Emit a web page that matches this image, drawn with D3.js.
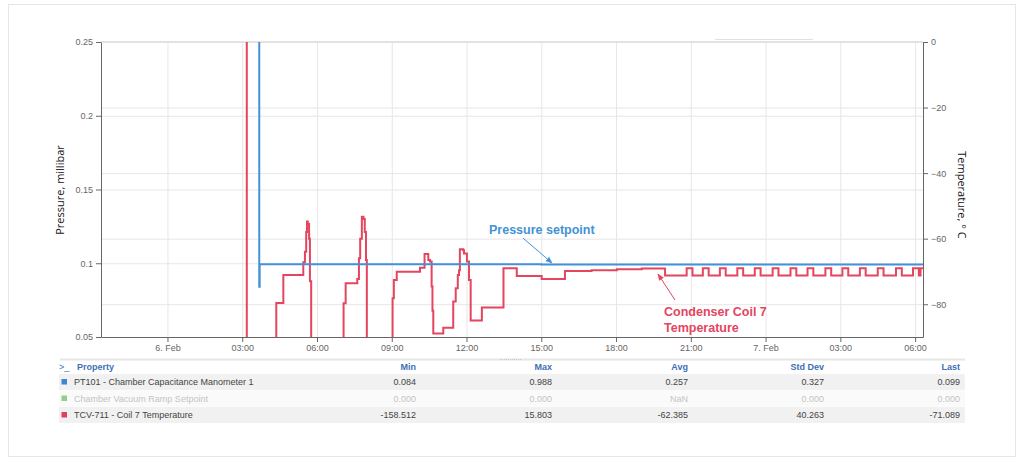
<!DOCTYPE html>
<html>
<head>
<meta charset="utf-8">
<script src="https://cdn.jsdelivr.net/npm/d3@7"></script>
<style>
  body { margin: 0; background: #fff; font-family: "Liberation Sans", Arial, sans-serif; }
  .tick text { font-size: 9px; fill: #666; font-family: "Liberation Sans", Arial, sans-serif; }
  .axis path, .axis line { stroke: #666; }
  .grid line { stroke: #e6e6e6; }
  .grid path { display: none; }
</style>
</head>
<body>
<div id="chart"></div>
<script>
// chart size
var svgWidth = 1024;
var svgHeight = 465;

var plot = { left: 101, right: 923, top: 42, bottom: 337 };

// time axis
var parseTime = d3.timeParse("%m-%d %H:%M");
var xDomain = ["02-05 21:20", "02-07 06:19"];
var xTicks = ["02-06 00:00", "02-06 03:00", "02-06 06:00", "02-06 09:00", "02-06 12:00", "02-06 15:00",
  "02-06 18:00", "02-06 21:00", "02-07 00:00", "02-07 03:00", "02-07 06:00"];
var xTickLabels = ["6. Feb", "03:00", "06:00", "09:00", "12:00", "15:00", "18:00", "21:00", "7. Feb", "03:00", "06:00"];

// left axis (pressure) and right axis (temperature)
var pressureTicks = [0.05, 0.1, 0.15, 0.2, 0.25];
var pressureTickLabels = ["0.05", "0.1", "0.15", "0.2", "0.25"];
var tempTicks = [-80, -60, -40, -20, 0];

// PT101 pressure, millibar
var pressureTimes = ["02-05 21:18", "02-06 03:41", "02-06 03:42", "02-06 15:00", "02-07 06:19"];
var pressureValues = [0.95, 0.084, 0.0994, 0.0992, 0.0990];

// TCV-711 coil 7 temperature, deg C
var tempTimes = ["02-05 21:18", "02-06 03:11", "02-06 04:22", "02-06 04:39", "02-06 05:27", "02-06 05:31",
  "02-06 05:34", "02-06 05:36", "02-06 05:38", "02-06 05:41", "02-06 05:43", "02-06 05:46",
  "02-06 07:04", "02-06 07:09", "02-06 07:37", "02-06 07:41", "02-06 07:44", "02-06 07:48",
  "02-06 07:52", "02-06 07:55", "02-06 07:58", "02-06 08:00",
  "02-06 09:02", "02-06 09:05", "02-06 09:12", "02-06 10:08", "02-06 10:19", "02-06 10:28",
  "02-06 10:32", "02-06 10:36", "02-06 10:38", "02-06 10:40", "02-06 11:04", "02-06 11:28",
  "02-06 11:34", "02-06 11:39", "02-06 11:42", "02-06 11:44", "02-06 11:52", "02-06 11:54",
  "02-06 12:01", "02-06 12:06", "02-06 12:10", "02-06 12:37", "02-06 13:29", "02-06 14:01",
  "02-06 15:01", "02-06 15:57", "02-06 17:01", "02-06 18:02", "02-06 19:02", "02-06 19:58",
  "02-06 20:50", "02-06 21:04", "02-06 21:29", "02-06 21:43", "02-06 22:10", "02-06 22:24",
  "02-06 22:52", "02-06 23:06", "02-06 23:34", "02-06 23:48", "02-07 00:17", "02-07 00:31",
  "02-07 01:00", "02-07 01:14", "02-07 01:41", "02-07 01:55", "02-07 02:24", "02-07 02:38",
  "02-07 03:05", "02-07 03:19", "02-07 03:47", "02-07 04:01", "02-07 04:30", "02-07 04:44",
  "02-07 05:14", "02-07 05:28", "02-07 05:55", "02-07 06:09", "02-07 06:13", "02-07 06:19"];
var tempValues = [12, -158.5, -79.6, -71.1, -67.2, -64,
  -58, -54.8, -55.5, -60, -73, -150,
  -79.7, -73.6, -72.3, -66, -60, -53.3,
  -54, -58, -66.5, -150,
  -78.2, -72.6, -70.1, -68.9, -64.7, -66.5,
  -67, -74.6, -82, -88.9, -87.2, -79.2,
  -75.1, -71.1, -69.6, -63.2, -63.5, -64.5,
  -67.0, -72.6, -85.0, -81.0, -69.0, -71.4,
  -72.3, -69.9, -69.6, -69.3, -69.1, -71.2,
  -69.0, -71.2, -69.0, -71.2, -69.0, -71.2,
  -69.0, -71.2, -69.0, -71.2, -69.0, -71.2,
  -69.0, -71.2, -69.0, -71.2, -69.0, -71.2,
  -69.0, -71.2, -69.0, -71.2, -69.0, -71.2,
  -69.0, -71.2, -69.0, -71.2, -69.0, -69.0];

// statistics table
var tableProps = ["PT101 - Chamber Capacitance Manometer 1", "Chamber Vacuum Ramp Setpoint", "TCV-711 - Coil 7 Temperature"];
var tableColors = ["#3f86cf", "#8fce8f", "#e0405e"];
var tableHeaders = ["Min", "Max", "Avg", "Std Dev", "Last"];
var tableMin = ["0.084", "0.000", "-158.512"];
var tableMax = ["0.988", "0.000", "15.803"];
var tableAvg = ["0.257", "NaN", "-62.385"];
var tableStd = ["0.327", "0.000", "40.263"];
var tableLast = ["0.099", "0.000", "-71.089"];

var blue = "#4392d6";
var red = "#e4455f";

var svg = d3.select("#chart")
  .append("svg")
  .attr("width", svgWidth)
  .attr("height", svgHeight);

// outer frame
svg.append("rect")
  .attr("x", 8.5).attr("y", 4.5)
  .attr("width", 1007).attr("height", 452)
  .attr("fill", "#fff")
  .attr("stroke", "#dfe8f0");

// scales
var x = d3.scaleTime()
  .domain(xDomain.map(parseTime))
  .range([plot.left, plot.right]);

var yLeft = d3.scaleLinear()
  .domain([0.05, 0.25])
  .range([plot.bottom, plot.top]);

var yRight = d3.scaleLinear()
  .domain([-90, 0])
  .range([plot.bottom, plot.top]);

var xTickDates = xTicks.map(parseTime);

// grid lines
svg.append("g")
  .attr("class", "grid")
  .attr("transform", `translate(0, ${plot.bottom})`)
  .call(d3.axisBottom(x).tickValues(xTickDates).tickSize(-(plot.bottom - plot.top)).tickFormat(""));

svg.append("g")
  .attr("class", "grid")
  .attr("transform", `translate(${plot.left}, 0)`)
  .call(d3.axisLeft(yLeft).tickValues(pressureTicks).tickSize(-(plot.right - plot.left)).tickFormat(""));

svg.append("g")
  .attr("class", "grid")
  .attr("transform", `translate(${plot.left}, 0)`)
  .call(d3.axisLeft(yRight).tickValues(tempTicks).tickSize(-(plot.right - plot.left)).tickFormat(""));

// top border of plot
svg.append("line")
  .attr("x1", plot.left).attr("x2", plot.right)
  .attr("y1", plot.top).attr("y2", plot.top)
  .attr("stroke", "#e2e2e2").attr("stroke-width", 2);

// small navigator mark above plot
svg.append("line")
  .attr("x1", 715).attr("x2", 813)
  .attr("y1", 39.5).attr("y2", 39.5)
  .attr("stroke", "#e0e0e0");

// clip
svg.append("clipPath").attr("id", "plotClip")
  .append("rect")
  .attr("x", plot.left).attr("y", plot.top)
  .attr("width", plot.right - plot.left).attr("height", plot.bottom - plot.top);

var pressureData = pressureTimes.map((t, i) => ({ t: parseTime(t), v: pressureValues[i] }));
var tempData = tempTimes.map((t, i) => ({ t: parseTime(t), v: tempValues[i] }));

var linesGroup = svg.append("g").attr("clip-path", "url(#plotClip)");

linesGroup.append("path")
  .datum(tempData)
  .attr("fill", "none")
  .attr("stroke", red)
  .attr("stroke-width", 2)
  .attr("d", d3.line().x(d => x(d.t)).y(d => yRight(d.v)).curve(d3.curveStepAfter));

linesGroup.append("path")
  .datum(pressureData)
  .attr("fill", "none")
  .attr("stroke", blue)
  .attr("stroke-width", 2)
  .attr("d", d3.line().x(d => x(d.t)).y(d => yLeft(d.v)).curve(d3.curveStepAfter));

// axes
svg.append("g")
  .attr("class", "axis")
  .attr("transform", `translate(0, ${plot.bottom})`)
  .call(d3.axisBottom(x).tickValues(xTickDates).tickSize(5).tickSizeOuter(0)
    .tickFormat((d, i) => xTickLabels[i]));

svg.append("g")
  .attr("class", "axis")
  .attr("transform", `translate(${plot.left}, 0)`)
  .call(d3.axisLeft(yLeft).tickValues(pressureTicks).tickSize(5).tickSizeOuter(0)
    .tickFormat((d, i) => pressureTickLabels[i]));

svg.append("g")
  .attr("class", "axis")
  .attr("transform", `translate(${plot.right}, 0)`)
  .call(d3.axisRight(yRight).tickValues(tempTicks).tickSize(5).tickSizeOuter(0)
    .tickFormat(d3.format("d")));

// axis titles
svg.append("text")
  .attr("transform", `translate(64, 190) rotate(-90)`)
  .attr("text-anchor", "middle")
  .style("font-family", "'Open Sans', sans-serif")
  .style("font-size", "11px")
  .attr("fill", "#111")
  .text("Pressure, millibar");

svg.append("text")
  .attr("transform", `translate(958, 195) rotate(90)`)
  .attr("text-anchor", "middle")
  .style("font-family", "'Open Sans', sans-serif")
  .style("font-size", "11px")
  .attr("fill", "#111")
  .text("Temperature, ° C");

// annotations
var defs = svg.append("defs");
[["arrowBlue", blue], ["arrowRed", red]].forEach(function(m) {
  defs.append("marker")
    .attr("id", m[0])
    .attr("viewBox", "0 0 10 10")
    .attr("refX", 9).attr("refY", 5)
    .attr("markerWidth", 7).attr("markerHeight", 7)
    .attr("orient", "auto")
    .append("path")
    .attr("d", "M0,1 L10,5 L0,9 z")
    .attr("fill", m[1]);
});

svg.append("line")
  .attr("x1", 523).attr("y1", 238)
  .attr("x2", 552).attr("y2", 263)
  .attr("stroke", blue).attr("stroke-width", 1)
  .attr("marker-end", "url(#arrowBlue)");

svg.append("text")
  .attr("x", 489).attr("y", 234)
  .style("font-size", "12.5px").style("font-weight", "bold")
  .attr("fill", blue)
  .text("Pressure setpoint");

svg.append("line")
  .attr("x1", 675).attr("y1", 300)
  .attr("x2", 658).attr("y2", 274)
  .attr("stroke", red).attr("stroke-width", 1)
  .attr("marker-end", "url(#arrowRed)");

svg.append("text")
  .attr("x", 664).attr("y", 316)
  .style("font-size", "12.5px").style("font-weight", "bold")
  .attr("fill", red)
  .text("Condenser Coil 7");

svg.append("text")
  .attr("x", 664).attr("y", 332)
  .style("font-size", "12.5px").style("font-weight", "bold")
  .attr("fill", red)
  .text("Temperature");

// table
var table = svg.append("g").style("font-size", "9px");

table.append("line")
  .attr("x1", 60).attr("x2", 965)
  .attr("y1", 359.5).attr("y2", 359.5)
  .attr("stroke", "#e6e6e6").attr("stroke-width", 2);
table.append("line")
  .attr("x1", 500).attr("x2", 522)
  .attr("y1", 359.5).attr("y2", 359.5)
  .attr("stroke", "#c8c8c8").attr("stroke-dasharray", "1,1");

var colRight = [416, 552, 688, 824, 960];

table.append("text")
  .attr("x", 59).attr("y", 370)
  .attr("fill", "#3d6fb6")
  .text(">_");
table.append("text")
  .attr("x", 77).attr("y", 370)
  .attr("fill", "#3d6fb6").style("font-weight", "bold")
  .text("Property");

tableHeaders.forEach(function(h, i) {
  table.append("text")
    .attr("x", colRight[i]).attr("y", 370)
    .attr("text-anchor", "end")
    .attr("fill", "#3d6fb6").style("font-weight", "bold")
    .text(h);
});

var rowY = [374, 390.5, 407];
tableProps.forEach(function(p, r) {
  table.append("rect")
    .attr("x", 59).attr("y", rowY[r])
    .attr("width", 906).attr("height", 16)
    .attr("fill", r === 1 ? "#fafafa" : "#f1f1f1");
  table.append("rect")
    .attr("x", 61.5).attr("y", rowY[r] + 5)
    .attr("width", 5.5).attr("height", 5.5)
    .attr("fill", tableColors[r]);
  var c = r === 1 ? "#c4c4c4" : "#444";
  table.append("text")
    .attr("x", 74).attr("y", rowY[r] + 11)
    .attr("fill", c)
    .text(p);
  [tableMin, tableMax, tableAvg, tableStd, tableLast].forEach(function(col, i) {
    table.append("text")
      .attr("x", colRight[i]).attr("y", rowY[r] + 11)
      .attr("text-anchor", "end")
      .attr("fill", c)
      .text(col[r]);
  });
});
</script>
</body>
</html>
